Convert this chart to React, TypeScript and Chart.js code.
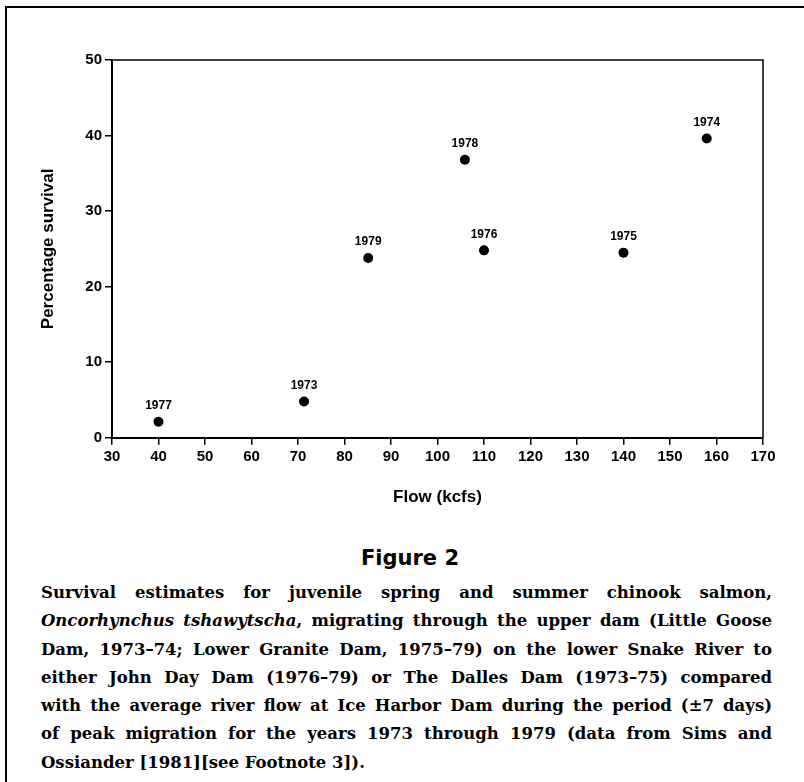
import React, { useEffect, useRef } from "react";
import { Chart, registerables } from "chart.js";

Chart.register(...registerables);

const years = ["1977", "1973", "1979", "1978", "1976", "1975", "1974"];
const flows = [40, 71.3, 85.1, 105.9, 110, 140, 157.9];
const survival = [2.1, 4.8, 23.8, 36.8, 24.8, 24.5, 39.6];

const xTitle = "Flow (kcfs)";
const yTitle = "Percentage survival";
const figureTitle = "Figure 2";

const AXIS_FONT = "'Liberation Sans', Arial, sans-serif";

const boxPlugin = {
  id: "plotBox",
  afterDraw(chart: any) {
    const { ctx, chartArea } = chart;
    ctx.save();
    ctx.strokeStyle = "#000";
    ctx.lineWidth = 1.5;
    ctx.beginPath();
    ctx.moveTo(chartArea.left, chartArea.top);
    ctx.lineTo(chartArea.right, chartArea.top);
    ctx.lineTo(chartArea.right, chartArea.bottom);
    ctx.stroke();
    ctx.restore();
  },
};

const labelPlugin = {
  id: "yearLabels",
  afterDatasetsDraw(chart: any) {
    const { ctx } = chart;
    const meta = chart.getDatasetMeta(0);
    ctx.save();
    ctx.fillStyle = "#000";
    ctx.font = `bold 12px ${AXIS_FONT}`;
    ctx.textAlign = "center";
    ctx.textBaseline = "middle";
    meta.data.forEach((el: any, i: number) => {
      ctx.fillText(years[i], el.x, el.y - 16);
    });
    ctx.restore();
  },
};

function ScatterChart() {
  const ref = useRef<HTMLCanvasElement | null>(null);
  useEffect(() => {
    if (!ref.current) return;
    const chart = new Chart(ref.current, {
      type: "scatter",
      data: {
        datasets: [
          {
            data: flows.map((f, i) => ({ x: f, y: survival[i] })),
            backgroundColor: "#000",
            borderColor: "#000",
            borderWidth: 0,
            pointRadius: 5,
          },
        ],
      },
      options: {
        responsive: false,
        animation: false,
        events: [],
        layout: { padding: { left: 38, top: 60, right: 41, bottom: 2 } },
        plugins: { legend: { display: false }, tooltip: { enabled: false } },
        scales: {
          x: {
            type: "linear",
            min: 30,
            max: 170,
            afterFit: (s: any) => {
              s.height = 70.3;
            },
            ticks: {
              stepSize: 10,
              autoSkip: false,
              maxRotation: 0,
              color: "#000",
              padding: 3,
              font: { family: AXIS_FONT, size: 15, weight: "bold" },
            },
            grid: {
              drawOnChartArea: false,
              drawTicks: true,
              tickLength: 7,
              color: "#000",
              lineWidth: 1.5,
            },
            border: { display: true, color: "#000", width: 2 },
            title: {
              display: true,
              text: xTitle,
              color: "#000",
              padding: { top: 0, bottom: 0 },
              font: { family: AXIS_FONT, size: 17, weight: "bold" },
            },
          },
          y: {
            type: "linear",
            min: 0,
            max: 50,
            afterFit: (s: any) => {
              s.width = 74;
            },
            ticks: {
              stepSize: 10,
              color: "#000",
              padding: 3,
              font: { family: AXIS_FONT, size: 15, weight: "bold" },
            },
            grid: {
              drawOnChartArea: false,
              drawTicks: true,
              tickLength: 7,
              color: "#000",
              lineWidth: 1.5,
            },
            border: { display: true, color: "#000", width: 2 },
            title: {
              display: true,
              text: yTitle,
              color: "#000",
              padding: { top: 0, bottom: 0 },
              font: { family: AXIS_FONT, size: 17, weight: "bold" },
            },
          },
        },
      },
      plugins: [boxPlugin, labelPlugin],
    } as any);
    return () => chart.destroy();
  }, []);
  return (
    <canvas
      ref={ref}
      width={804}
      height={510}
      style={{ position: "absolute", left: 0, top: 0, width: 804, height: 510 }}
    />
  );
}

const captionLines: React.ReactNode[] = [
  "Survival estimates for juvenile spring and summer chinook salmon,",
  <>
    <i>Oncorhynchus tshawytscha</i>, migrating through the upper dam (Little Goose
  </>,
  "Dam, 1973–74; Lower Granite Dam, 1975–79) on the lower Snake River to",
  "either John Day Dam (1976–79) or The Dalles Dam (1973–75) compared",
  "with the average river flow at Ice Harbor Dam during the period (±7 days)",
  "of peak migration for the years 1973 through 1979 (data from Sims and",
  "Ossiander [1981][see Footnote 3]).",
];

export default function App() {
  return (
    <div
      style={{
        position: "absolute",
        left: 0,
        top: 0,
        width: 804,
        height: 782,
        background: "#fff",
        overflow: "hidden",
      }}
    >
      <div style={{ position: "absolute", left: 5, top: 6, width: 799, height: 2, background: "#000" }} />
      <div style={{ position: "absolute", left: 5, top: 6, width: 2, height: 776, background: "#000" }} />
      <ScatterChart />
      <div
        style={{
          position: "absolute",
          left: 310,
          top: 546,
          width: 200,
          textAlign: "center",
          fontFamily: "'DejaVu Sans', Verdana, sans-serif",
          fontWeight: "bold",
          fontSize: 21,
          lineHeight: "24px",
          color: "#000",
        }}
      >
        {figureTitle}
      </div>
      <div
        style={{
          position: "absolute",
          left: 41,
          top: 579,
          width: 731,
          fontFamily: "'DejaVu Serif', serif",
          fontWeight: "bold",
          fontSize: 16.5,
          lineHeight: "28.3px",
          color: "#000",
        }}
      >
        {captionLines.map((line, i) => (
          <div
            key={i}
            style={{
              textAlign: "justify",
              textAlignLast: i === captionLines.length - 1 ? "left" : "justify",
              height: 28.3,
              whiteSpace: "nowrap",
            }}
          >
            {line}
          </div>
        ))}
      </div>
    </div>
  );
}
